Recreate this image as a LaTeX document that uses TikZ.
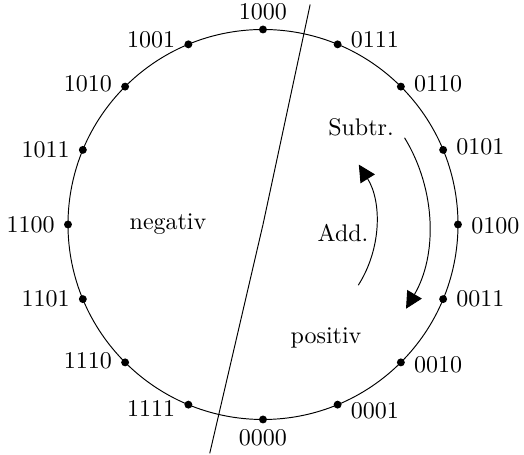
\documentclass[tikz,border=0pt]{standalone}
\usepackage{tikz}
\usetikzlibrary{arrows.meta}

\begin{document}
\begin{tikzpicture}[
    x=0.4167pt, y=0.4167pt,
    dot/.style={circle, fill, inner sep=0pt, minimum size=3.3pt},
    lab/.style={inner sep=1pt, label distance=2.5pt},
    >={Triangle[length=7pt,width=7pt]},
    ]
\useasboundingbox (-263,-230.5) rectangle (261,224.5);
\coordinate (c) at (0,0);
\draw (c) circle[radius=195];

% the sixteen 4-bit codes round the circle
\foreach \ang/\code/\side/\dy in {90/1000/above/-1.7, 67.5/0111/right/2,
    45/0110/right/1.2, 22.5/0101/right/1.2, 0/0100/right/-0.4,
    -22.5/0011/right/0, -45/0010/right/-1.2, -67.5/0001/right/-2.4,
    -90/0000/below/1.2, -112.5/1111/left/-1.6, -135/1110/left/0.8,
    -157.5/1101/left/0, 180/1100/left/0, 157.5/1011/left/0,
    135/1010/left/1, 112.5/1001/left/2}
  \node[dot, label={[lab, yshift=\dy pt]\side:\code}] (d\code) at (\ang:195) {};

% split between negative and positive numbers
\coordinate (top) at (77.9:225);
\coordinate (bot) at (-103.1:235);
\draw (c) -- (top);
\draw (c) -- (bot);

% directions of counting
\draw[->] (31.5:166) arc[start angle=31.5, end angle=-30.5, radius=166];
\draw[->] (-32.5:113) arc[start angle=-32.5, end angle=32, radius=113];

\node (neg) at (-95,0) {negativ};
\node (pos) at (63,-113.5) {positiv};
\node (sub) at (98,97.5) {Subtr.};
\node (add) at (80,-8.5) {Add.};
\end{tikzpicture}
\end{document}
